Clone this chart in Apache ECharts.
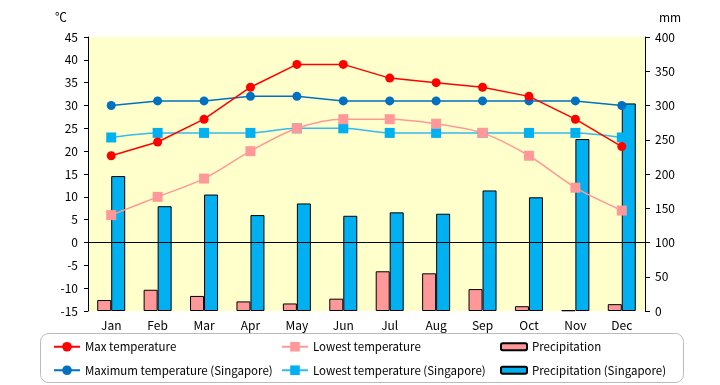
<!DOCTYPE html>
<html>
<head>
<meta charset="utf-8">
<script src="https://cdn.jsdelivr.net/npm/echarts@6/dist/echarts.min.js"></script>
<style>html,body{margin:0;padding:0;background:#fff}#c{width:720px;height:385px}</style>
</head>
<body>
<div id="c"></div>
<script>
var months = ['Jan','Feb','Mar','Apr','May','Jun','Jul','Aug','Sep','Oct','Nov','Dec'];
var maxTemp = [19, 22, 27, 34, 39, 39, 36, 35, 34, 32, 27, 21];
var lowTemp = [6, 10, 14, 20, 25, 27, 27, 26, 24, 19, 12, 7];
var precip = [16, 31, 22, 14, 11, 18, 58, 55, 32, 7, 1, 10];
var sgMax = [30, 31, 31, 32, 32, 31, 31, 31, 31, 31, 31, 30];
var sgLow = [23, 24, 24, 24, 25, 25, 24, 24, 24, 24, 24, 23];
var sgPrecip = [197, 153, 170, 140, 157, 139, 144, 142, 176, 166, 251, 303];

var FONT = "'Noto Sans CJK JP', 'Liberation Sans', sans-serif";
var chart = echarts.init(document.getElementById('c'), null, {renderer: 'canvas'});
var legendBase = {
  orient: 'vertical', itemGap: 12, itemHeight: 12, itemWidth: 26, itemTextGap: 4, padding: 0, height: 60,
  textStyle: {fontFamily: FONT, fontSize: 11.5, color: '#000'}, selectedMode: false
};
chart.setOption({
  animation: false,
  textStyle: {fontFamily: FONT},
  grid: {left: 88, right: 75, top: 37, bottom: 74, show: true, backgroundColor: '#FFFFCC', borderWidth: 0},
  graphic: [
    {type: 'text', left: 55, top: 11, style: {text: '℃', font: '12px ' + FONT, fill: '#000'}},
    {type: 'text', left: 659, top: 11, style: {text: 'mm', font: '12px ' + FONT, fill: '#000'}},
    {type: 'rect', shape: {x: 40.5, y: 333.5, width: 643, height: 49, r: 8}, style: {fill: 'none', stroke: '#BBBBBB', lineWidth: 1}, z: -1}
  ],
  legend: [
    Object.assign({}, legendBase, {left: 53, top: 341, data: ['Max temperature', 'Maximum temperature (Singapore)']}),
    Object.assign({}, legendBase, {left: 281, top: 341, data: ['Lowest temperature', 'Lowest temperature (Singapore)']}),
    Object.assign({}, legendBase, {left: 500, top: 341, itemHeight: 7, data: ['Precipitation', 'Precipitation (Singapore)']})
  ],
  xAxis: {
    type: 'category', data: months,
    axisLine: {show: false}, axisTick: {show: false},
    axisLabel: {color: '#000', fontSize: 12, fontFamily: FONT, margin: 8}
  },
  yAxis: [
    {type: 'value', min: -15, max: 45, interval: 5,
     axisLine: {show: true, lineStyle: {color: '#000'}},
     axisTick: {show: true, length: 4, lineStyle: {color: '#000'}},
     splitLine: {show: false},
     axisLabel: {color: '#000', fontSize: 12, fontFamily: FONT, margin: 10}},
    {type: 'value', min: 0, max: 400, interval: 50, position: 'right',
     axisLine: {show: true, lineStyle: {color: '#000'}},
     axisTick: {show: true, length: 5, lineStyle: {color: '#000'}},
     splitLine: {show: false},
     axisLabel: {color: '#000', fontSize: 12, fontFamily: FONT, margin: 10}}
  ],
  series: [
    {name: 'Precipitation', type: 'bar', yAxisIndex: 1, data: precip, barWidth: 14, barGap: '0%',
     itemStyle: {color: '#FF9999', borderColor: '#000', borderWidth: 1}},
    {name: 'Precipitation (Singapore)', type: 'bar', yAxisIndex: 1, data: sgPrecip, barWidth: 14, barGap: '0%',
     itemStyle: {color: '#00B0F0', borderColor: '#000', borderWidth: 1}},
    {name: 'Maximum temperature (Singapore)', type: 'line', data: sgMax, symbol: 'circle', symbolSize: 9,
     lineStyle: {color: '#0070C0', width: 1.5}, itemStyle: {color: '#0070C0'}, z: 3},
    {name: 'Lowest temperature (Singapore)', type: 'line', data: sgLow, symbol: 'rect', symbolSize: 10, smooth: 0.3,
     lineStyle: {color: '#33BBEE', width: 1.5}, itemStyle: {color: '#00B0F0'}, z: 3},
    {name: 'Lowest temperature', type: 'line', data: lowTemp, symbol: 'rect', symbolSize: 10, smooth: 0.3,
     lineStyle: {color: '#FF9999', width: 1.5}, itemStyle: {color: '#FF9999'}, z: 4},
    {name: 'Max temperature', type: 'line', data: maxTemp, symbol: 'circle', symbolSize: 9,
     lineStyle: {color: '#FF0000', width: 1.5}, itemStyle: {color: '#FF0000'}, z: 5,
     markLine: {silent: true, symbol: 'none', label: {show: false},
       lineStyle: {color: '#000', width: 1, type: 'solid'}, data: [{yAxis: 0}]}}
  ]
});
</script>
</body>
</html>
